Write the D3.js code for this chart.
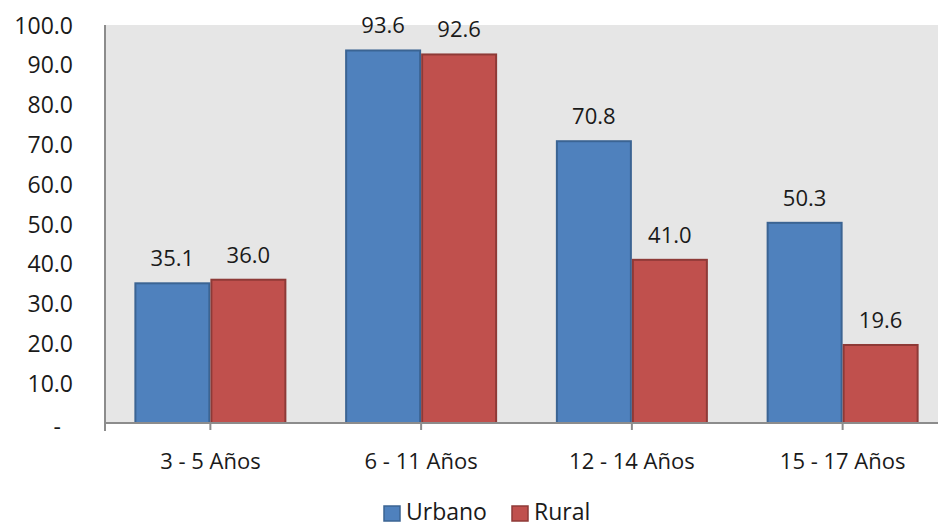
<!DOCTYPE html>
<html><head><meta charset="utf-8">
<script src="https://cdn.jsdelivr.net/npm/d3@7"></script>
<style>
body{margin:0;background:#fff;}
svg text{font-family:"Open Sans",sans-serif;fill:#1a1a1a;}
</style></head>
<body><svg id="c" width="938" height="527"></svg>
<script>
const categories = ["3 - 5 Años","6 - 11 Años","12 - 14 Años","15 - 17 Años"];
const seriesNames = ["Urbano","Rural"];
const urbano = [35.1, 93.6, 70.8, 50.3];
const rural = [36.0, 92.6, 41.0, 19.6];
const yTicks = [0,10,20,30,40,50,60,70,80,90,100];
const colors = ["#4F81BD","#C0504D"];
const strokes = ["#3B6493","#8E3A37"];

const svg = d3.select("#c");
const mLeft = 105, mTop = 25, mBottom = 423, mRight = 948;
const x = d3.scaleBand().domain(categories).range([mLeft, mRight]).padding(0);
const y = d3.scaleLinear().domain([0,100]).range([mBottom, mTop]);
const barW = 76;
const xs = d3.scaleBand().domain(seriesNames).range([-barW, barW]).padding(0);

svg.append("rect").attr("x", mLeft).attr("y", y(100)).attr("width", mRight-mLeft).attr("height", y(0)-y(100)).attr("fill","#E6E6E6");

const series = [urbano, rural];
series.forEach((vals, si) => {
  const g = svg.append("g");
  g.selectAll("rect").data(vals).join("rect")
    .attr("x", (d,i) => x(categories[i]) + x.bandwidth()/2 + xs(seriesNames[si]) + 1)
    .attr("y", d => y(d))
    .attr("width", xs.bandwidth() - 2)
    .attr("height", d => y(0) - y(d))
    .attr("fill", colors[si]).attr("stroke", strokes[si]).attr("stroke-width", 2);
  g.selectAll("text").data(vals).join("text")
    .attr("x", (d,i) => x(categories[i]) + x.bandwidth()/2 + xs(seriesNames[si]) + xs.bandwidth()/2)
    .attr("y", d => y(d) - 17)
    .attr("text-anchor","middle").attr("font-size", 22)
    .text(d => d.toFixed(1));
});

// Y axis
const yAxis = d3.axisLeft(y).tickValues(yTicks).tickSize(0).tickPadding(32)
  .tickFormat(d => d === 0 ? "-" : d.toFixed(1));
const ya = svg.append("g").attr("transform", `translate(${mLeft},0)`).call(yAxis);
ya.select(".domain").remove();
ya.selectAll("text").attr("font-size", 23).attr("dy", "0.35em").style("font-family","'Open Sans',sans-serif").attr("fill","#1a1a1a");
ya.selectAll(".tick").filter(d => d === 0).select("text").attr("dx", -12).attr("dy","0.5em");
svg.append("line").attr("x1", mLeft).attr("x2", mLeft).attr("y1", y(100)).attr("y2", mBottom + 8)
  .attr("stroke", "#8c8c8c").attr("stroke-width", 2);

// X axis
const xAxis = d3.axisBottom(x).tickSize(7).tickPadding(23);
const xa = svg.append("g").attr("transform", `translate(0,${mBottom})`).call(xAxis);
xa.select(".domain").attr("stroke","#8c8c8c").attr("stroke-width",2).attr("d", `M${mLeft},0H${mRight}`);
xa.selectAll(".tick line").attr("stroke","#8c8c8c").attr("stroke-width",2);
xa.selectAll("text").attr("font-size", 22).style("font-family","'Open Sans',sans-serif").attr("fill","#1a1a1a");

// Legend
const legend = svg.append("g");
const legX = [384, 512];
seriesNames.forEach((s, i) => {
  legend.append("rect").attr("x", legX[i]).attr("y", 506).attr("width", 16).attr("height", 15)
    .attr("fill", colors[i]).attr("stroke", strokes[i]).attr("stroke-width", 1.5);
  legend.append("text").attr("x", legX[i] + 22).attr("y", 520).attr("font-size", 23).text(s);
});
</script></body></html>
